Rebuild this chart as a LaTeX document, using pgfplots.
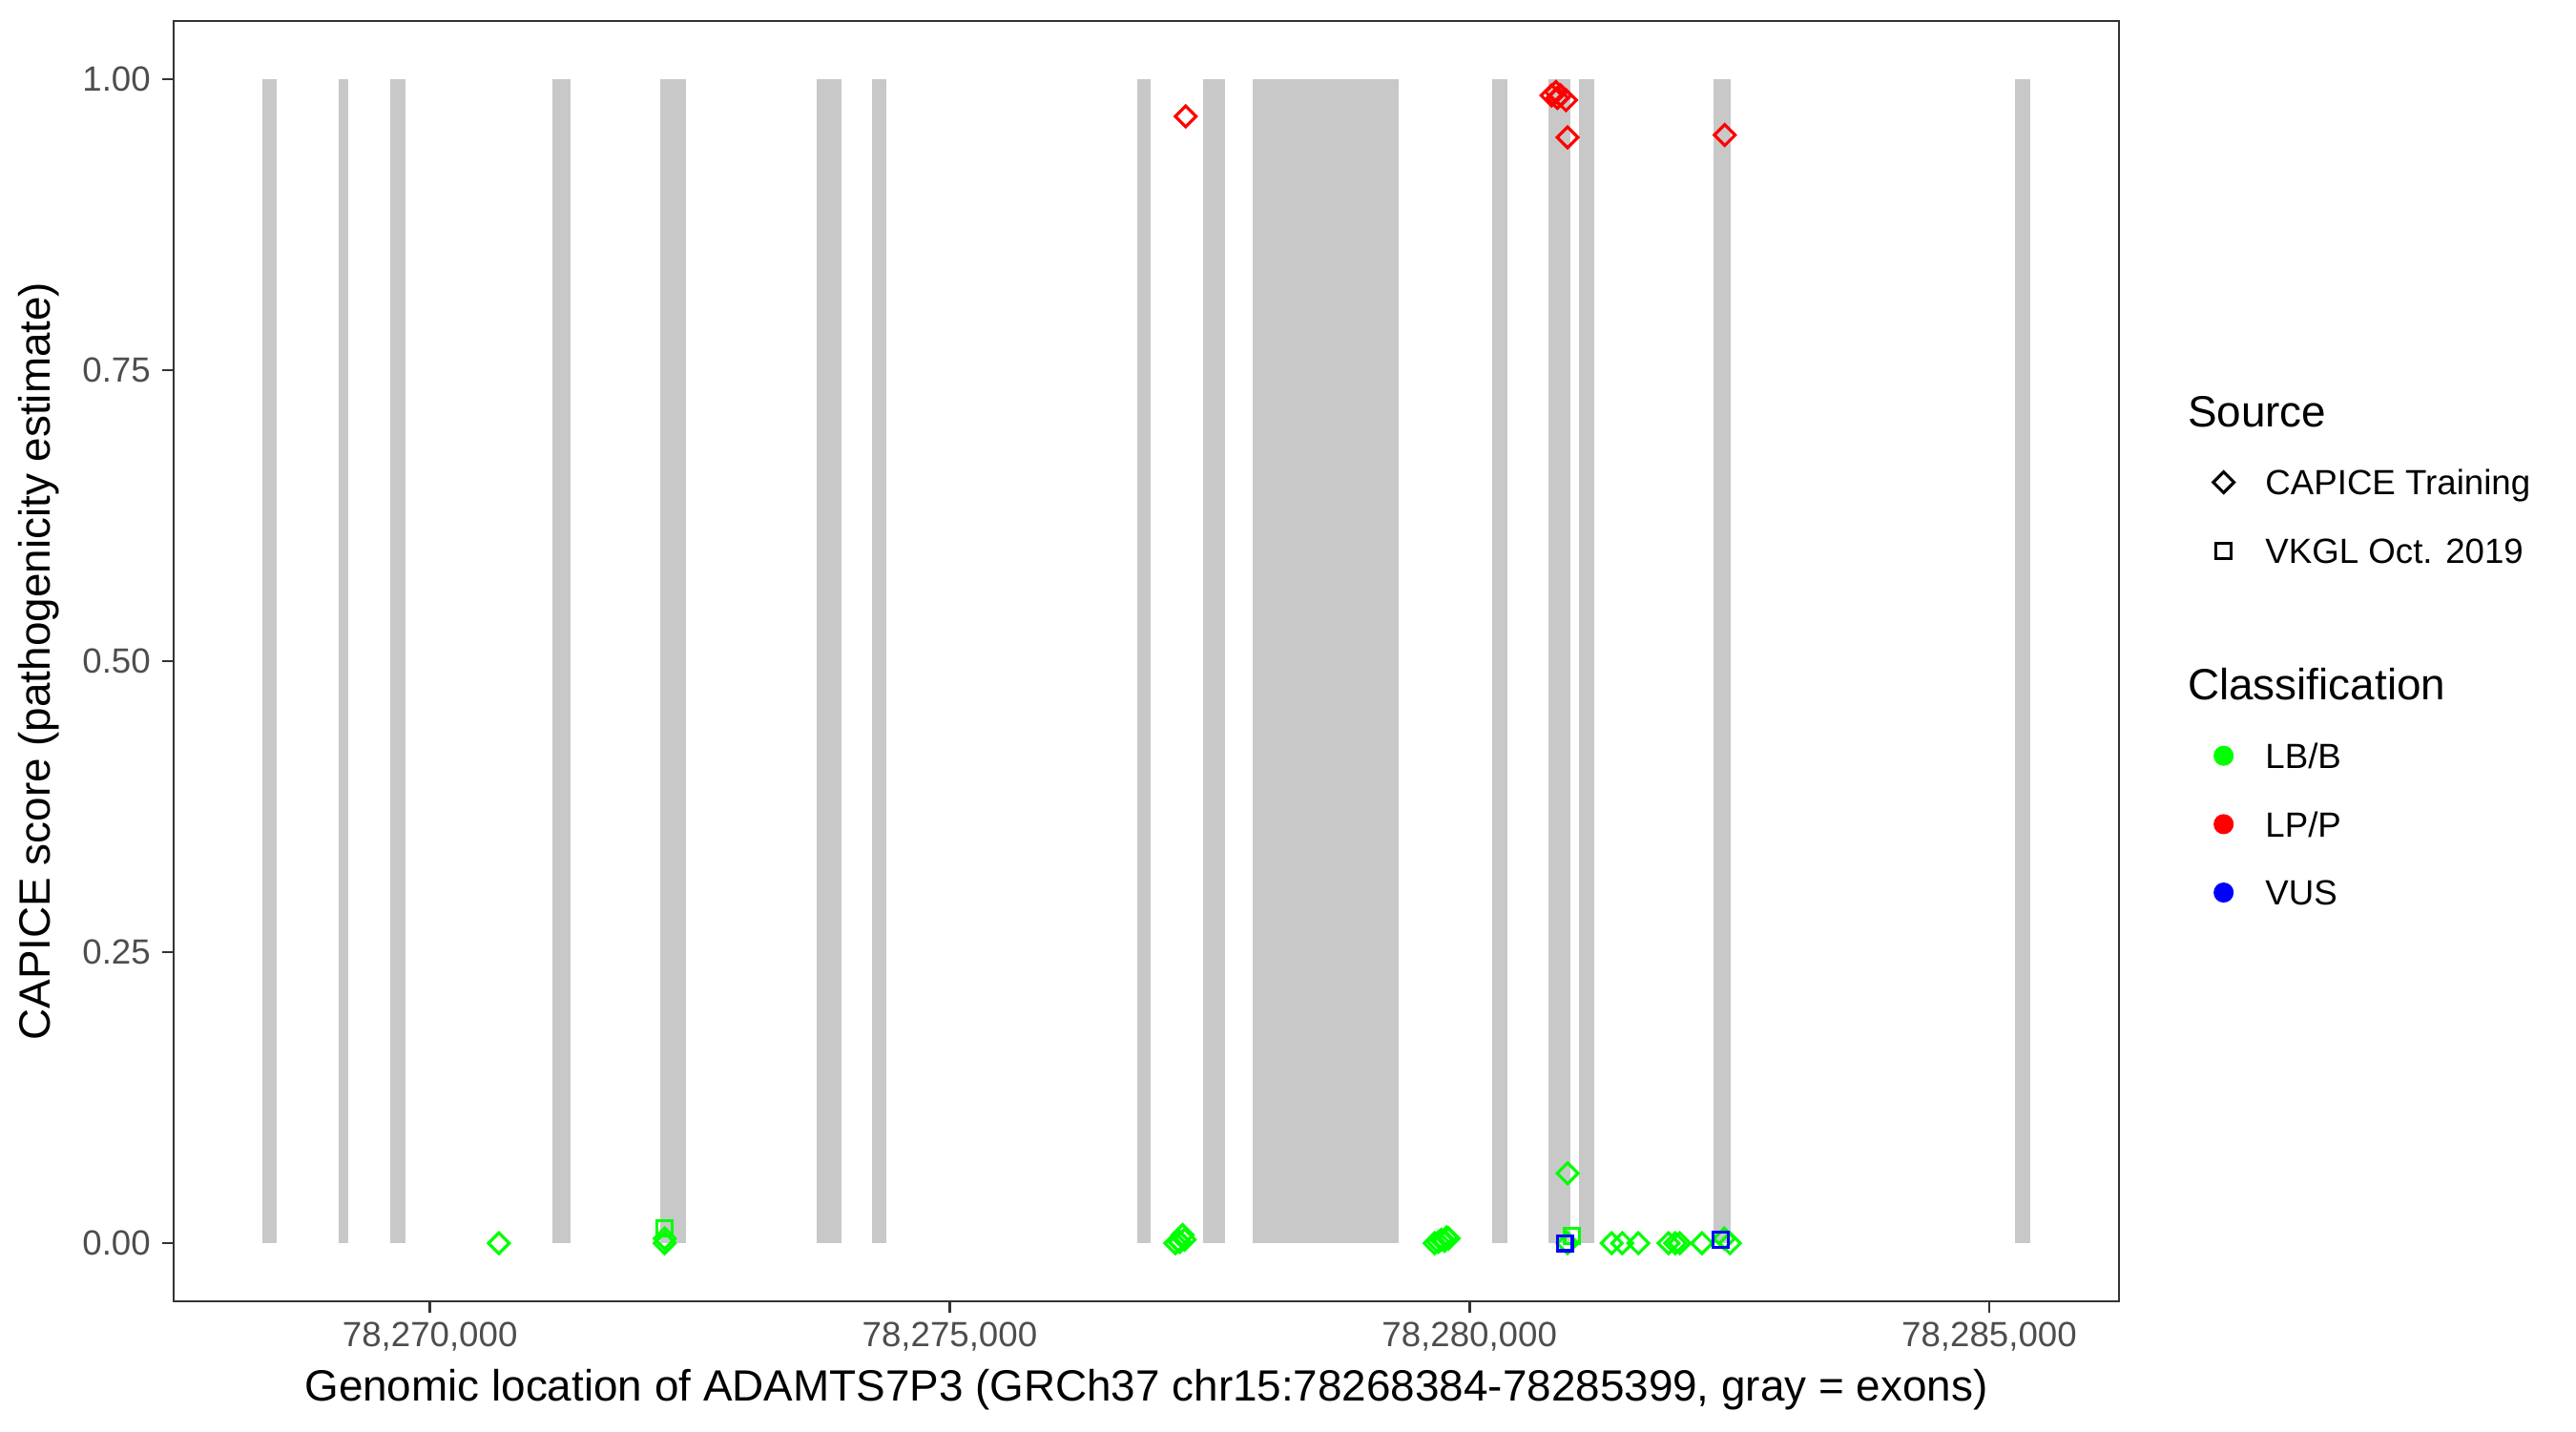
\documentclass[border=0pt]{standalone}
\usepackage{fontspec}
\setmainfont{Liberation Sans}
\usepackage{pgfplots}
\pgfplotsset{compat=1.18}
\usepackage{pgfplotstable}

\definecolor{exongray}{RGB}{200,200,200}
\definecolor{framegray}{RGB}{51,51,51}
\definecolor{ticktext}{RGB}{77,77,77}
\definecolor{lbb}{RGB}{0,255,0}
\definecolor{lpp}{RGB}{255,0,0}
\definecolor{vus}{RGB}{0,0,255}

% positions are given relative to 78,260,000 (GRCh37 chr15)
\pgfplotstableread{
start end
8384 8527
9125 9215
9620 9762
11178 11351
12213 12464
13719 13963
14253 14387
16807 16935
17440 17651
17918 19320
20218 20367
20764 20975
21056 21204
22345 22512
25247 25399
}\exons

\pgfplotstableread{
x y
10663 0
12258 0
12258 0.004
17170 0
17200 0.002
17215 0.001
17240 0.007
17260 0.003
19665 0
19700 0.001
19730 0.003
19760 0.002
19780 0.005
19800 0.004
20944 0.060
20944 0
21368 0
21471 0
21625 0
21915 0
21979 0
22024 0
22237 0
22451 0.004
22506 0
}\lbbcapice

\pgfplotstableread{
x y
12258 0.0126
20989 0.0063
}\lbbvkgl

\pgfplotstableread{
x y
17270 0.968
20790 0.986
20832 0.989
20846 0.984
20877 0.986
20929 0.982
20944 0.950
22456 0.952
}\lppcapice

\pgfplotstableread{
x y
20917 0
22417 0.003
}\vusvkgl

\newcommand{\exon}[2]{\addplot[fill=exongray, draw=none, mark=none, forget plot] coordinates {(#1,0) (#2,0) (#2,1) (#1,1)} -- cycle;}

\begin{document}
\begin{tikzpicture}
\begin{axis}[
  scale only axis, width=489.4pt, height=322.1pt,
  xmin=7533.25, xmax=26249.75, ymin=-0.05, ymax=1.05,
  axis line style={draw=framegray, line width=0.65pt},
  tick style={draw=framegray, line width=0.65pt},
  tick align=outside, major tick length=2.75pt,
  xtick pos=lower, ytick pos=left, minor tick num=0,
  scaled x ticks=false,
  xtick={10000,15000,20000,25000},
  xticklabels={{78,270,000},{78,275,000},{78,280,000},{78,285,000}},
  ytick={0,0.25,0.5,0.75,1},
  yticklabels={0.00,0.25,0.50,0.75,1.00},
  ticklabel style={font=\fontsize{8.8}{10}\selectfont, text=ticktext},
  xticklabel style={anchor=base, inner sep=0pt, yshift=-8.7pt},
  yticklabel style={anchor=east, inner sep=0pt, xshift=-2.85pt},
  xlabel={Genomic location of ADAMTS7P3 (GRCh37 chr15:78268384-78285399, gray = exons)},
  ylabel={CAPICE score (pathogenicity estimate)},
  label style={font=\fontsize{11}{13}\selectfont},
  xlabel style={at={(axis description cs:0.5,-0.0777)}, anchor=base, inner sep=0pt},
  ylabel style={at={(axis description cs:-0.0633,0.5)}, anchor=base, inner sep=0pt},
  legend cell align=left,
  legend style={draw=none, fill=none, inner sep=0pt,
    at={(axis description cs:1,1)}, anchor=north west,
    xshift=23.1pt, yshift=-93.65pt,
    /tikz/row sep=7.2pt, /tikz/column sep=7.5pt,
    font=\fontsize{8.8}{10}\selectfont,
    nodes={inner sep=0pt, text height=8.15pt, text depth=1.85pt}},
  legend image code/.code={\draw[#1] plot coordinates {(0pt,0pt)}; \path[draw=none, fill=none] (-3pt,-3pt) rectangle (3pt,3pt);},
]
% exons
\exon{8384}{8527}
\exon{9125}{9215}
\exon{9620}{9762}
\exon{11178}{11351}
\exon{12213}{12464}
\exon{13719}{13963}
\exon{14253}{14387}
\exon{16807}{16935}
\exon{17440}{17651}
\exon{17918}{19320}
\exon{20218}{20367}
\exon{20764}{20975}
\exon{21056}{21204}
\exon{22345}{22512}
\exon{25247}{25399}

% variants
\addplot[only marks, forget plot, lbb, mark=square, mark size=1.85pt, mark options={rotate=45, line width=0.75pt}] table[x=x, y=y] {\lbbcapice};
\addplot[only marks, forget plot, lbb, mark=square, mark size=1.9pt, mark options={line width=0.75pt}] table[x=x, y=y] {\lbbvkgl};
\addplot[only marks, forget plot, lpp, mark=square, mark size=1.85pt, mark options={rotate=45, line width=0.75pt}] table[x=x, y=y] {\lppcapice};
\addplot[only marks, forget plot, vus, mark=square, mark size=1.9pt, mark options={line width=0.75pt}] table[x=x, y=y] {\vusvkgl};

% legend
\addlegendimage{empty legend}
\addlegendentry{\hspace*{-19.5pt}\fontsize{11}{13}\selectfont Source}
\addlegendimage{only marks, black, mark=square, mark size=1.85pt, mark options={rotate=45, line width=0.75pt}}
\addlegendentry{CAPICE Training}
\addlegendimage{only marks, black, mark=square, mark size=1.9pt, mark options={line width=0.75pt}}
\addlegendentry{VKGL Oct. 2019}
\addlegendimage{empty legend}
\addlegendentry{~}
\addlegendimage{empty legend}
\addlegendentry{\hspace*{-19.5pt}\fontsize{11}{13}\selectfont Classification}
\addlegendimage{only marks, lbb, mark=*, mark size=2.2pt, mark options={line width=0.65pt}}
\addlegendentry{LB/B}
\addlegendimage{only marks, lpp, mark=*, mark size=2.2pt, mark options={line width=0.65pt}}
\addlegendentry{LP/P}
\addlegendimage{only marks, vus, mark=*, mark size=2.2pt, mark options={line width=0.65pt}}
\addlegendentry{VUS}
\end{axis}
\pgfresetboundingbox
\path[use as bounding box] (-43.66pt,-32.62pt) rectangle (604.34pt,327.38pt);
\end{tikzpicture}
\end{document}
